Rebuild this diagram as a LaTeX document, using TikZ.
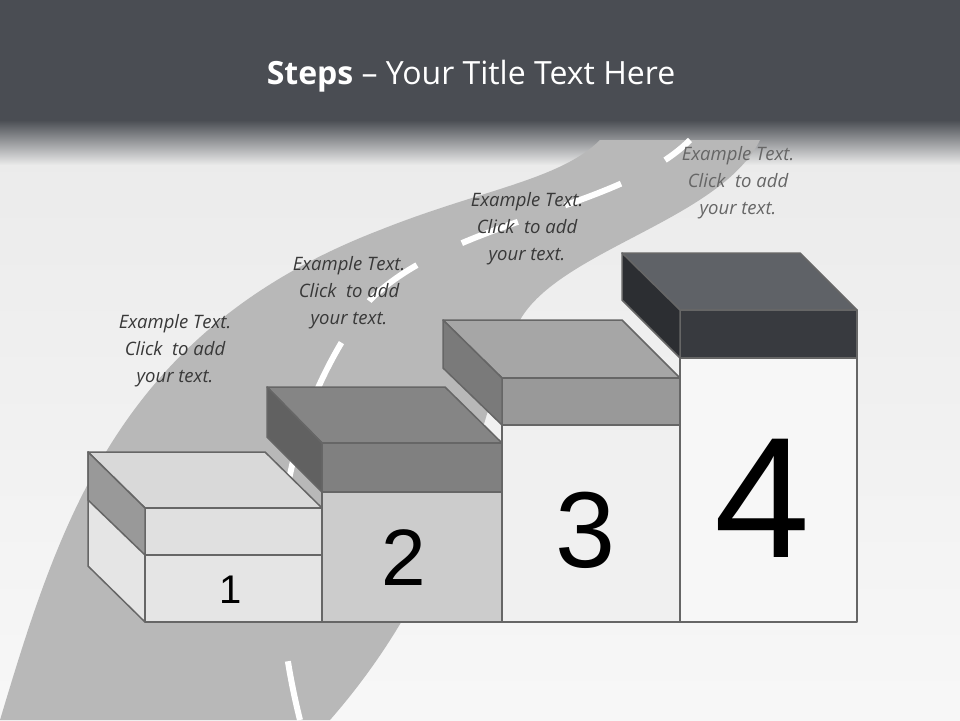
\documentclass[tikz,border=0pt]{standalone}
\usepackage{fontspec}
\setmainfont{Open Sans}
\newfontfamily\numfont{Liberation Sans}
\begin{document}
\begin{tikzpicture}[x=1pt,y=-1pt,
  face/.style={draw=gray!80!black,line width=1.5pt,line join=round},
  lbl/.style={font=\itshape\fontsize{18.5}{27}\selectfont,text=black!78,align=center}]
\definecolor{hdr}{HTML}{4A4D53}
\definecolor{topfour}{HTML}{5F6267}
\definecolor{frontfour}{HTML}{383A3F}
\definecolor{sidefour}{HTML}{2C2E32}
\useasboundingbox (0,0) rectangle (960,720);
\shade[top color=white!92!black,bottom color=white!97!black] (0,130) rectangle (960,720);
\fill[hdr] (0,0) rectangle (960,120);
\shade[top color=hdr,bottom color=white!92!black] (0,120) rectangle (960,165);
% road
\fill[black!28] (0,720) .. controls (60,520) and (120,330) .. (380,230) .. controls (480,190) and (560,180) .. (600,140)
  -- (760,140) .. controls (720,220) and (560,250) .. (520,320) .. controls (480,400) and (470,560) .. (330,720) -- cycle;
\draw[white,line width=6pt,dash pattern=on 60pt off 50pt] (300,720) .. controls (260,560) and (280,420) .. (370,300)
  .. controls (450,220) and (620,210) .. (690,140);
% column 1
\fill[black!10,face] (88,452) -- (145,508) -- (145,622) -- (88,566) -- cycle;
\fill[black!10,face] (145,555) rectangle (322,622);
\fill[black!15,face] (88,452) -- (265,452) -- (322,508) -- (145,508) -- cycle;
\fill[black!12,face] (145,508) rectangle (322,555);
\fill[black!40,face] (88,452) -- (145,508) -- (145,555) -- (88,500) -- cycle;
% column 2
\fill[black!20,face] (322,492) rectangle (502,622);
\fill[black!48,face] (267,387) -- (445,387) -- (502,443) -- (322,443) -- cycle;
\fill[black!50,face] (322,443) rectangle (502,492);
\fill[black!62,face] (267,387) -- (322,443) -- (322,492) -- (267,437) -- cycle;
% column 3
\fill[black!6,face] (502,425) rectangle (680,622);
\fill[black!35,face] (443,320) -- (622,320) -- (680,378) -- (502,378) -- cycle;
\fill[black!40,face] (502,378) rectangle (680,425);
\fill[black!52,face] (443,320) -- (502,378) -- (502,425) -- (443,368) -- cycle;
% column 4
\fill[black!3,face] (680,358) rectangle (857,622);
\fill[topfour,face] (622,253) -- (800,253) -- (857,310) -- (680,310) -- cycle;
\fill[frontfour,face] (680,310) rectangle (857,358);
\fill[sidefour,face] (622,253) -- (680,310) -- (680,358) -- (622,300) -- cycle;
% numbers
\node[font=\numfont\fontsize{40}{40}\selectfont] (n1) at (231,590) {1};
\node[font=\numfont\fontsize{80}{80}\selectfont] (n2) at (404,558) {2};
\node[font=\numfont\fontsize{108}{108}\selectfont] (n3) at (586,530) {3};
\node[font=\numfont\fontsize{172}{172}\selectfont] (n4) at (762,498) {4};
% labels
\node[lbl] (t1) at (175,351) {Example Text.\\Click \ to add\\your text.};
\node[lbl] (t2) at (349,293) {Example Text.\\Click \ to add\\your text.};
\node[lbl] (t3) at (527,229) {Example Text.\\Click \ to add\\your text.};
\node[lbl,text=black!60] (t4) at (738,183) {Example Text.\\Click \ to add\\your text.};
\node[text=white,font=\fontsize{32}{32}\selectfont] (title) at (471,76) {\textbf{Steps} -- Your Title Text Here};
\end{tikzpicture}
\end{document}
